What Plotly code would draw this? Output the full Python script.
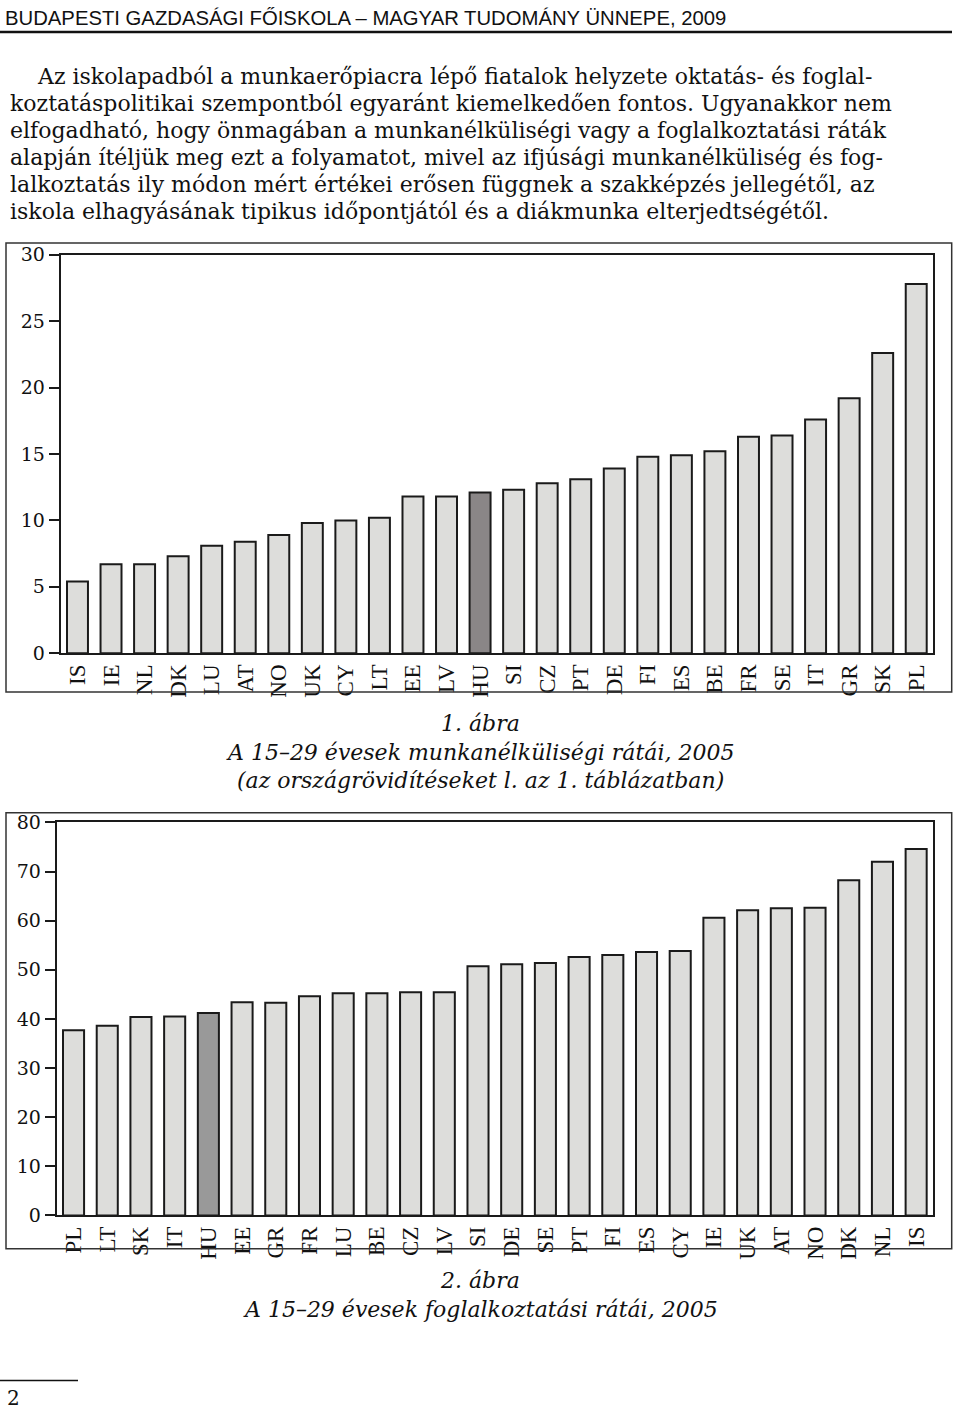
import plotly.graph_objects as go

W = 960
HF = 1440  # figure height (px); page photo maps figure px -> picture px as ~11.5 + 0.984*f

# ---------- data ----------
countries_unemp = ["IS", "IE", "NL", "DK", "LU", "AT", "NO", "UK", "CY", "LT", "EE", "LV", "HU",
                   "SI", "CZ", "PT", "DE", "FI", "ES", "BE", "FR", "SE", "IT", "GR", "SK", "PL"]
unemp_rates = [5.4, 6.7, 6.7, 7.3, 8.1, 8.4, 8.9, 9.8, 10.0, 10.2, 11.8, 11.8, 12.1,
               12.3, 12.8, 13.1, 13.9, 14.8, 14.9, 15.2, 16.3, 16.4, 17.6, 19.2, 22.6, 27.8]

countries_emp = ["PL", "LT", "SK", "IT", "HU", "EE", "GR", "FR", "LU", "BE", "CZ", "LV", "SI",
                 "DE", "SE", "PT", "FI", "ES", "CY", "IE", "UK", "AT", "NO", "DK", "NL", "IS"]
emp_rates = [37.7, 38.6, 40.4, 40.5, 41.2, 43.4, 43.3, 44.6, 45.2, 45.2, 45.4, 45.4, 50.7,
             51.1, 51.4, 52.6, 53.0, 53.6, 53.8, 60.6, 62.1, 62.5, 62.6, 68.2, 72.0, 74.6]

highlight = "HU"

unemp_ticks = [0, 5, 10, 15, 20, 25, 30]
emp_ticks = [0, 10, 20, 30, 40, 50, 60, 70, 80]

header_text = "BUDAPESTI GAZDASÁGI FŐISKOLA – MAGYAR TUDOMÁNY ÜNNEPE, 2009"
paragraph_lines = [
    "Az iskolapadból a munkaerőpiacra lépő fiatalok helyzete oktatás- és foglal-",
    "koztatáspolitikai szempontból egyaránt kiemelkedően fontos. Ugyanakkor nem",
    "elfogadható, hogy önmagában a munkanélküliségi vagy a foglalkoztatási ráták",
    "alapján ítéljük meg ezt a folyamatot, mivel az ifjúsági munkanélküliség és fog-",
    "lalkoztatás ily módon mért értékei erősen függnek a szakképzés jellegétől, az",
    "iskola elhagyásának tipikus időpontjától és a diákmunka elterjedtségétől.",
]
caption1 = ["1. ábra", "A 15–29 évesek munkanélküliségi rátái, 2005",
            "(az országrövidítéseket l. az 1. táblázatban)"]
caption2 = ["2. ábra", "A 15–29 évesek foglalkoztatási rátái, 2005"]
page_number = "2"

# ---------- helpers ----------
A_OFF, B_SCALE = 11.5, 0.984


def px(x):
    return x / W


def py(t):
    f = (t - A_OFF) / B_SCALE
    return 1 - f / HF


LIGHT = "#dddddb"
DARK1 = "#8a8687"
DARK2 = "#999999"
EDGE = "#1a1a1a"

fig = go.Figure()

fig.add_trace(go.Bar(
    x=countries_unemp, y=unemp_rates, xaxis="x", yaxis="y",
    marker=dict(color=[DARK1 if c == highlight else LIGHT for c in countries_unemp],
                line=dict(color=EDGE, width=2)),
    showlegend=False, hoverinfo="x+y"))

fig.add_trace(go.Bar(
    x=countries_emp, y=emp_rates, xaxis="x2", yaxis="y2",
    marker=dict(color=[DARK2 if c == highlight else LIGHT for c in countries_emp],
                line=dict(color=EDGE, width=2)),
    showlegend=False, hoverinfo="x+y"))

serif_tick = dict(family="DejaVu Serif", size=19, color="#111")
cat_font = dict(family="Liberation Serif", size=23, color="#111")

common_x = dict(showline=True, linecolor=EDGE, linewidth=2, mirror=True, ticks="",
                tickangle=-90, tickfont=cat_font, showgrid=False, fixedrange=True)
common_y = dict(showline=True, linecolor=EDGE, linewidth=2, mirror=True, ticks="outside",
                ticklen=10, tickwidth=2, tickcolor=EDGE, tickfont=serif_tick,
                showgrid=False, zeroline=False, fixedrange=True)

fig.update_layout(
    width=W, height=HF,
    margin=dict(l=0, r=0, t=0, b=0),
    paper_bgcolor="white", plot_bgcolor="white",
    bargap=0.375,
    xaxis=dict(domain=[px(60.7), px(933)], anchor="y", **common_x),
    yaxis=dict(domain=[py(653.3), py(255)], anchor="x", range=[0, 30],
               tickvals=unemp_ticks, **common_y),
    xaxis2=dict(domain=[px(56.7), px(933)], anchor="y2", **common_x),
    yaxis2=dict(domain=[py(1215), py(822.3)], anchor="x2", range=[0, 80],
                tickvals=emp_ticks, **common_y),
)

shapes = []
shapes.append(dict(type="line", xref="paper", yref="paper", x0=0, x1=px(952),
                   y0=py(32.5), y1=py(32.5), line=dict(color="#111", width=2.5)))
for (y0, y1) in [(243.3, 692), (812.7, 1248.3)]:
    shapes.append(dict(type="rect", xref="paper", yref="paper", x0=px(6), x1=px(951.7),
                       y0=py(y1), y1=py(y0), line=dict(color="#333", width=1.5)))
shapes.append(dict(type="line", xref="paper", yref="paper", x0=0, x1=px(78),
                   y0=py(1380), y1=py(1380), line=dict(color="#111", width=1.5)))
fig.update_layout(shapes=shapes)

ann = []
ann.append(dict(text=header_text, xref="paper", yref="paper", x=px(3), y=py(18),
                xanchor="left", yanchor="middle", showarrow=False,
                font=dict(family="Liberation Sans, Arial", size=20.3, color="#111")))

para_y = [77, 104, 131, 158, 185, 212]
for i, (line, yy) in enumerate(zip(paragraph_lines, para_y)):
    ann.append(dict(text=line, xref="paper", yref="paper",
                    x=px(35 if i == 0 else 8), y=py(yy),
                    xanchor="left", yanchor="middle", showarrow=False,
                    font=dict(family="DejaVu Serif", size=22, color="#111")))

for txt, yy in zip(caption1, [723, 752, 780]):
    ann.append(dict(text="<i>" + txt + "</i>", xref="paper", yref="paper", x=0.5, y=py(yy),
                    xanchor="center", yanchor="middle", showarrow=False,
                    font=dict(family="DejaVu Serif", size=22, color="#111")))
for txt, yy in zip(caption2, [1280, 1309]):
    ann.append(dict(text="<i>" + txt + "</i>", xref="paper", yref="paper", x=0.5, y=py(yy),
                    xanchor="center", yanchor="middle", showarrow=False,
                    font=dict(family="DejaVu Serif", size=22, color="#111")))

ann.append(dict(text=page_number, xref="paper", yref="paper", x=px(5), y=py(1397),
                xanchor="left", yanchor="middle", showarrow=False,
                font=dict(family="DejaVu Serif", size=20, color="#111")))
fig.update_layout(annotations=ann)

page_css = (
    "document.documentElement.style.margin='0';"
    "document.body.style.margin='0';"
    "document.body.style.overflow='hidden';"
    "var gd=document.getElementById('{plot_id}');"
    "gd.style.position='fixed';gd.style.top='0px';gd.style.left='0px';"
)

fig.write_html("out.html", config={"displayModeBar": False}, post_script=page_css)
